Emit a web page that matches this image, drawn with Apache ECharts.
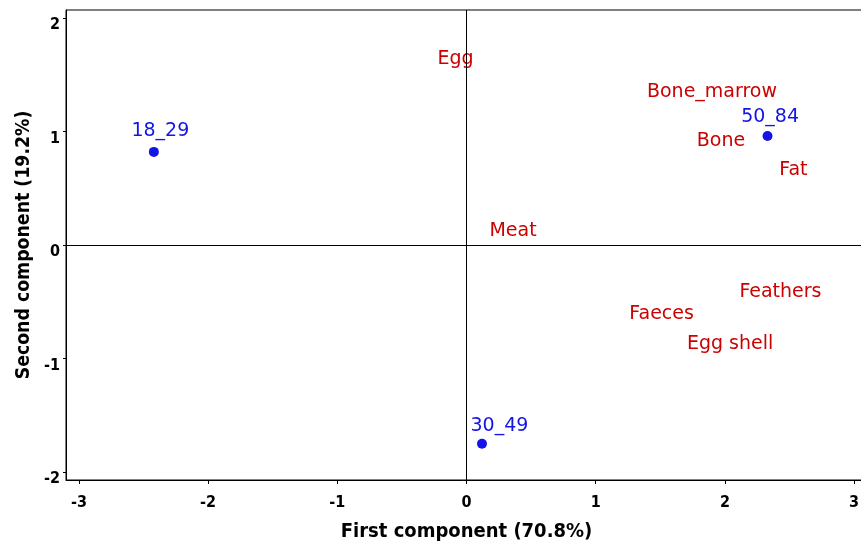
<!DOCTYPE html>
<html>
<head>
<meta charset="utf-8">
<script src="https://cdn.jsdelivr.net/npm/echarts@6/dist/echarts.min.js"></script>
<style>
html,body{margin:0;padding:0;background:#fff;}
#chart{width:861px;height:546px;}
</style>
</head>
<body>
<div id="chart"></div>
<script>
// Axis ticks
const xTicks = [-3, -2, -1, 0, 1, 2, 3];
const yTicks = [-2, -1, 0, 1, 2];
// Age groups (scores)
const groupNames = ['18_29', '30_49', '50_84'];
const groupX = [-2.42, 0.12, 2.33];
const groupY = [0.82, -1.75, 0.96];
// Text positions of the group labels (data units)
const groupLabelX = [-2.37, 0.255, 2.35];
const groupLabelY = [1.01, -1.59, 1.14];
// Variables (loadings, drawn as text)
const varNames = ['Egg', 'Bone_marrow', 'Bone', 'Fat', 'Meat', 'Feathers', 'Faeces', 'Egg shell'];
const varX = [-0.085, 1.90, 1.97, 2.53, 0.36, 2.43, 1.51, 2.04];
const varY = [1.65, 1.36, 0.92, 0.67, 0.13, -0.41, -0.60, -0.86];

const BLUE = '#1414e6';
const RED = '#cc0000';
const condBold = "'DejaVu Sans Condensed', 'DejaVu Sans', sans-serif";

const chart = echarts.init(document.getElementById('chart'), null, {renderer: 'canvas'});
chart.setOption({
  animation: false,
  backgroundColor: '#fff',
  grid: {left: 66, right: -6, top: 10, bottom: 66, outerBoundsMode: 'none', containLabel: false,
         show: true, borderColor: '#000', borderWidth: 1, backgroundColor: 'transparent'},
  xAxis: {
    type: 'value', min: -3.1, max: 3.1,
    name: 'First component (70.8%)', nameLocation: 'middle', nameGap: 42,
    nameTextStyle: {fontFamily: condBold, fontWeight: 'bold', fontSize: 20, color: '#000'},
    axisLine: {show: true, onZero: false, lineStyle: {color: '#000', width: 1}},
    axisTick: {show: true, length: 4, customValues: xTicks, lineStyle: {color: '#000'}},
    axisLabel: {customValues: xTicks, margin: 15, fontFamily: condBold, fontWeight: 'bold', fontSize: 16, color: '#000'},
    splitLine: {show: false}
  },
  yAxis: {
    type: 'value', min: -2.07, max: 2.07,
    name: 'Second component (19.2%)', nameLocation: 'middle', nameGap: 29, nameRotate: 90,
    nameTextStyle: {fontFamily: condBold, fontWeight: 'bold', fontSize: 19.3, color: '#000'},
    axisLine: {show: true, onZero: false, lineStyle: {color: '#000', width: 1}},
    axisTick: {show: true, length: 3, customValues: yTicks, lineStyle: {color: '#000'}},
    axisLabel: {customValues: yTicks, margin: 6, verticalAlign: 'top', lineHeight: 14,
                fontFamily: condBold, fontWeight: 'bold', fontSize: 16, color: '#000'},
    splitLine: {show: false}
  },
  series: [
    {
      type: 'scatter', name: 'ref', data: [], silent: true,
      markLine: {
        silent: true, symbol: 'none', label: {show: false},
        lineStyle: {color: '#000', width: 1, type: 'solid', opacity: 1},
        data: [{xAxis: 0}, {yAxis: 0}]
      }
    },
    {
      type: 'scatter', name: 'variables', silent: true,
      symbolSize: 0, itemStyle: {opacity: 1},
      data: varNames.map((n, i) => ({name: n, value: [varX[i], varY[i]]})),
      label: {show: true, position: 'inside', offset: [0, 1], formatter: p => p.name, color: RED, opacity: 1, fontFamily: 'DejaVu Sans', fontSize: 19}
    },
    {
      type: 'scatter', name: 'groupLabels', silent: true,
      symbolSize: 0, itemStyle: {opacity: 1},
      data: groupNames.map((n, i) => ({name: n, value: [groupLabelX[i], groupLabelY[i]]})),
      label: {show: true, position: 'inside', offset: [0, 1], formatter: p => p.name, color: BLUE, opacity: 1, fontFamily: 'DejaVu Sans', fontSize: 19}
    },
    {
      type: 'scatter', name: 'groups',
      symbol: 'circle', symbolSize: 10,
      itemStyle: {color: BLUE, opacity: 1},
      data: groupNames.map((n, i) => ({name: n, value: [groupX[i], groupY[i]]}))
    }
  ]
});
</script>
</body>
</html>
